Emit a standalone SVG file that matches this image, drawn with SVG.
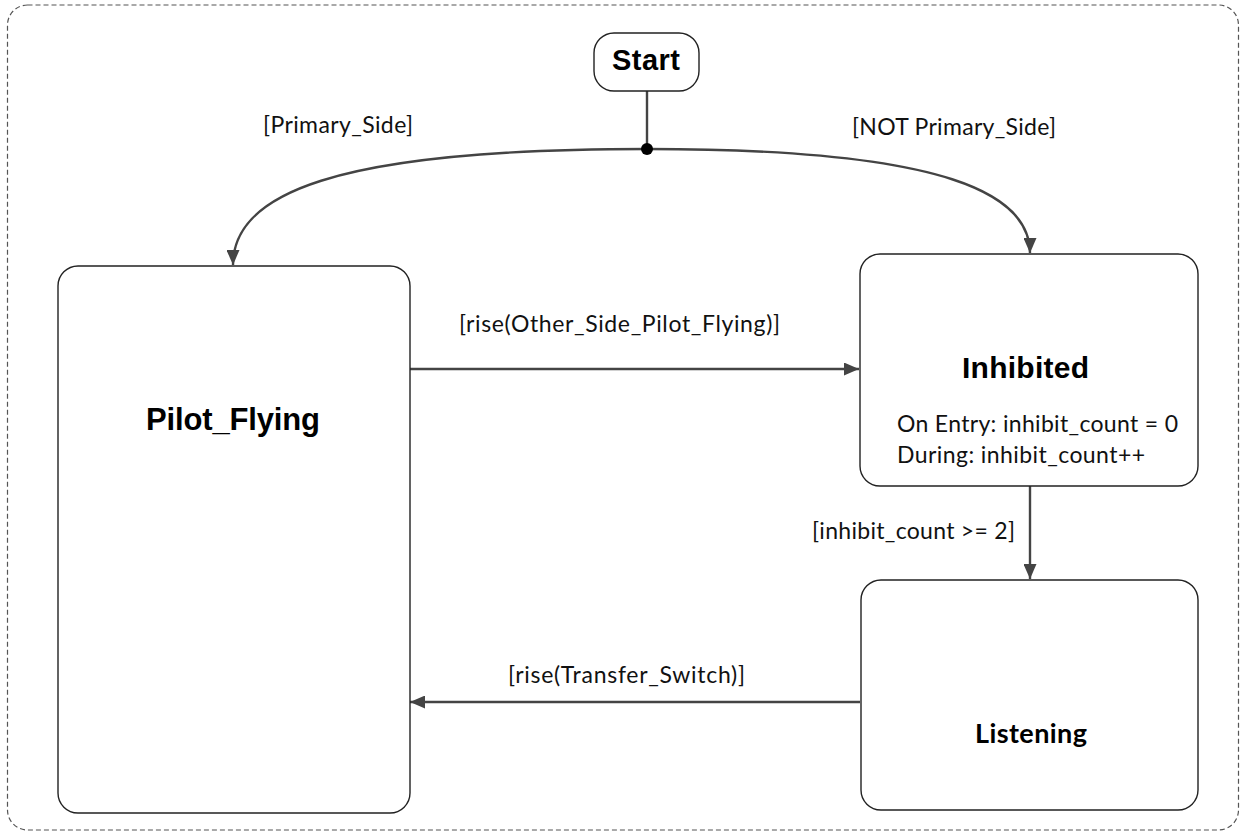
<svg xmlns="http://www.w3.org/2000/svg" width="1241" height="832" viewBox="0 0 1241 832">
<style>
.frame{fill:none;stroke:#555;stroke-width:1.2;stroke-dasharray:5 3}
.state{fill:#fff;stroke:#222;stroke-width:1.4}
.conn{fill:none;stroke:#444;stroke-width:2.4}
.title{font-family:"Liberation Sans",Arial,sans-serif;font-weight:bold;fill:#000}
.ctitle{font-family:Lato,"Liberation Sans",sans-serif;font-weight:bold;fill:#000}
.lbl{font-family:Lato,"Liberation Sans",sans-serif;font-size:23px;fill:#111}
</style>
<defs>
<marker id="arr" viewBox="0 0 15 13" refX="15" refY="6.5" markerWidth="15" markerHeight="13" markerUnits="userSpaceOnUse" orient="auto">
<path d="M0,0 L15,6.5 L0,13 Z" fill="#444"/>
</marker>
</defs>
<rect class="frame" x="7.5" y="5" width="1231" height="825" rx="20"/>
<g id="connectors">
<line class="conn" x1="647" y1="91" x2="647" y2="149"/>
<path class="conn" d="M647,149 C330,149 233,195 233,265" marker-end="url(#arr)"/>
<path class="conn" d="M647,149 C950,149 1030,195 1030,253" marker-end="url(#arr)"/>
<line class="conn" x1="410" y1="369" x2="859" y2="369" marker-end="url(#arr)"/>
<line class="conn" x1="1030" y1="486" x2="1030" y2="579" marker-end="url(#arr)"/>
<line class="conn" x1="860" y1="702" x2="410" y2="702" marker-end="url(#arr)"/>
<circle cx="647" cy="149" r="6" fill="#000"/>
<text class="lbl" x="263" y="133" textLength="150">[Primary_Side]</text>
<text class="lbl" x="852" y="135" textLength="204">[NOT Primary_Side]</text>
<text class="lbl" x="459" y="332" textLength="321">[rise(Other_Side_Pilot_Flying)]</text>
<text class="lbl" x="812" y="539" textLength="203">[inhibit_count &gt;= 2]</text>
<text class="lbl" x="508" y="683" textLength="237">[rise(Transfer_Switch)]</text>
</g>
<g id="start">
<rect class="state" x="594" y="33" width="105" height="58" rx="20"/>
<text class="title" x="612" y="70" font-size="29" textLength="68">Start</text>
</g>
<g id="pilot_flying">
<rect class="state" x="58" y="266" width="352" height="547" rx="20"/>
<text class="title" x="146" y="430" font-size="31" textLength="174">Pilot_Flying</text>
</g>
<g id="inhibited">
<rect class="state" x="860" y="254" width="338" height="232" rx="20"/>
<text class="title" x="962" y="378" font-size="30" textLength="127">Inhibited</text>
<text class="lbl" x="897" y="432" textLength="281">On Entry: inhibit_count = 0</text>
<text class="lbl" x="897" y="463" textLength="248">During: inhibit_count++</text>
</g>
<g id="listening">
<rect class="state" x="861" y="580" width="337" height="230" rx="20"/>
<text class="ctitle" x="975" y="743" font-size="27" textLength="112">Listening</text>
</g>
</svg>
